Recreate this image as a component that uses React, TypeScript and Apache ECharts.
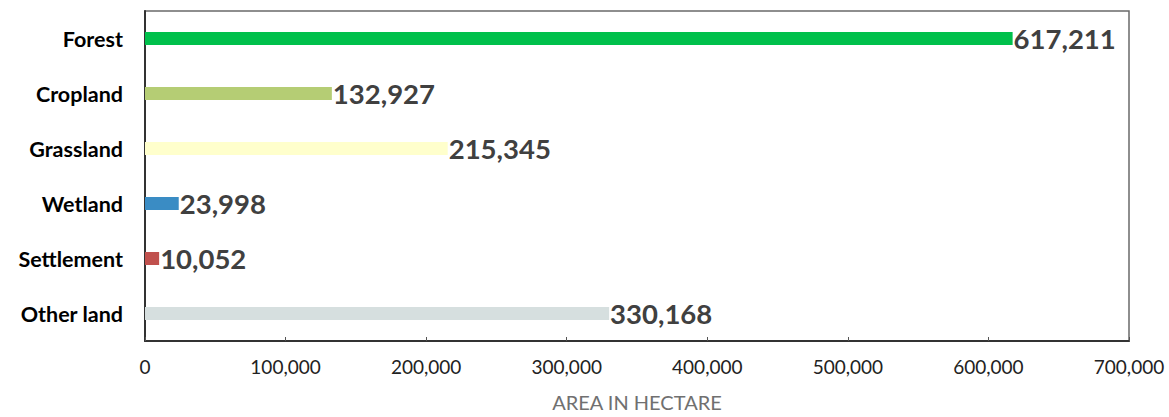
import React, { useEffect, useRef } from "react";
import * as echarts from "echarts";

const categories = ["Forest", "Cropland", "Grassland", "Wetland", "Settlement", "Other land"];
const values = [617211, 132927, 215345, 23998, 10052, 330168];
const barColors = ["#00C04B", "#B5CD74", "#FFFFCC", "#3A8CC4", "#C0504D", "#D6DFDF"];
const axisMax = 700000;
const axisInterval = 100000;
const axisTitle = "AREA IN HECTARE";

const fmt = (v: number) => v.toLocaleString("en-US");

export default function App() {
  const ref = useRef<HTMLDivElement>(null);
  useEffect(() => {
    if (!ref.current) return;
    const chart = echarts.init(ref.current, undefined, { renderer: "svg" });
    chart.setOption({
      animation: false,
      grid: {
        left: 145,
        right: 40,
        top: 11,
        bottom: 76,
        show: true,
        borderColor: "#6a6a6a",
        borderWidth: 1.5,
      },
      xAxis: {
        type: "value",
        min: 0,
        max: axisMax,
        interval: axisInterval,
        name: axisTitle,
        nameLocation: "middle",
        nameGap: 51,
        nameTextStyle: { color: "#707070", fontSize: 20, fontFamily: "Lato" },
        axisLine: { show: true, lineStyle: { color: "#333", width: 2 } },
        axisTick: { show: true, inside: true, length: 4, lineStyle: { color: "#555", width: 1 } },
        splitLine: { show: false },
        axisLabel: {
          color: "#222",
          fontSize: 19,
          fontFamily: "Lato",
          margin: 16,
          formatter: (v: number) => fmt(v),
        },
      },
      yAxis: {
        type: "category",
        data: categories,
        inverse: true,
        axisLine: { show: true, lineStyle: { color: "#333", width: 2 } },
        axisTick: { show: false },
        splitLine: { show: false },
        axisLabel: {
          color: "#000",
          fontSize: 21.5,
          fontWeight: "bold",
          fontFamily: "Lato",
          margin: 22,
        },
      },
      series: [
        {
          type: "bar",
          data: values.map((v, i) => ({ value: v, itemStyle: { color: barColors[i] } })),
          barWidth: 13,
          label: {
            show: true,
            position: "right",
            distance: 1,
            color: "#404040",
            fontSize: 27.5,
            fontWeight: "bold",
            fontFamily: "Lato",
            formatter: (p: any) => fmt(p.value),
          },
        },
      ],
    });
    return () => chart.dispose();
  }, []);
  return (
    <div
      ref={ref}
      style={{ position: "absolute", left: 0, top: 0, width: 1169, height: 417 }}
    />
  );
}
